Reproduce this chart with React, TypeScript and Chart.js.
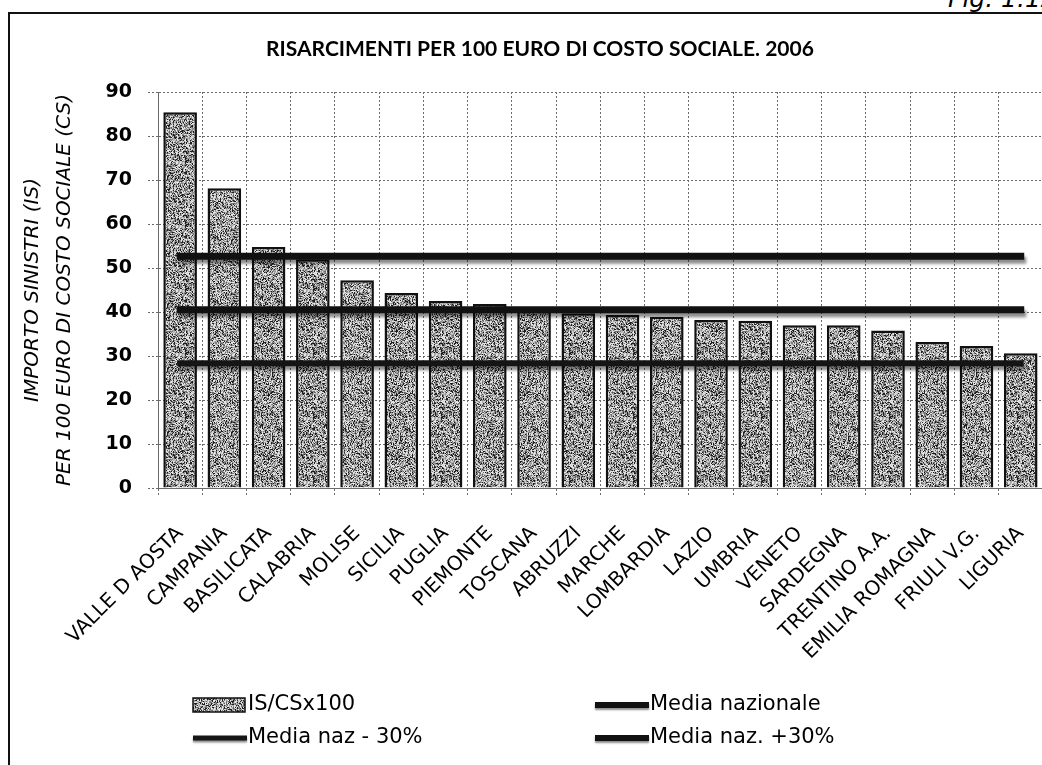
import { useEffect, useRef } from 'react';
import { Chart, registerables } from 'chart.js';

Chart.register(...registerables);

const chartTitle = 'RISARCIMENTI PER 100 EURO DI COSTO SOCIALE. 2006';
const yAxisTitle = ['IMPORTO SINISTRI (IS)', 'PER 100 EURO DI COSTO SOCIALE (CS)'];
const figLabel = 'Fig. 1.12';

const categories = [
  'VALLE D AOSTA', 'CAMPANIA', 'BASILICATA', 'CALABRIA', 'MOLISE', 'SICILIA', 'PUGLIA',
  'PIEMONTE', 'TOSCANA', 'ABRUZZI', 'MARCHE', 'LOMBARDIA', 'LAZIO', 'UMBRIA', 'VENETO',
  'SARDEGNA', 'TRENTINO A.A.', 'EMILIA ROMAGNA', 'FRIULI V.G.', 'LIGURIA',
];

const seriesLabels = ['IS/CSx100', 'Media nazionale', 'Media naz - 30%', 'Media naz. +30%'];

const isCsValues = [
  85.4, 68.1, 54.8, 52.0, 47.2, 44.3, 42.5, 41.8, 40.2, 39.7,
  39.3, 38.9, 38.2, 38.0, 37.0, 37.0, 35.8, 33.2, 32.3, 30.6,
];

const mediaNazionale = [
  40.5, 40.5, 40.5, 40.5, 40.5, 40.5, 40.5, 40.5, 40.5, 40.5,
  40.5, 40.5, 40.5, 40.5, 40.5, 40.5, 40.5, 40.5, 40.5, 40.5,
];

const mediaMeno30 = [
  28.35, 28.35, 28.35, 28.35, 28.35, 28.35, 28.35, 28.35, 28.35, 28.35,
  28.35, 28.35, 28.35, 28.35, 28.35, 28.35, 28.35, 28.35, 28.35, 28.35,
];

const mediaPiu30 = [
  52.65, 52.65, 52.65, 52.65, 52.65, 52.65, 52.65, 52.65, 52.65, 52.65,
  52.65, 52.65, 52.65, 52.65, 52.65, 52.65, 52.65, 52.65, 52.65, 52.65,
];

const yMin = 0;
const yMax = 90;
const yStep = 10;

const FONT = "'DejaVu Sans', sans-serif";

function makeNoisePattern(ctx: CanvasRenderingContext2D): CanvasPattern | string {
  const size = 64;
  const c = document.createElement('canvas');
  c.width = size;
  c.height = size;
  const g = c.getContext('2d');
  if (!g) return '#8c8c8c';
  const img = g.createImageData(size, size);
  for (let y = 0; y < size; y++) {
    for (let x = 0; x < size; x++) {
      let h = Math.imul(x + 17, 374761393) ^ Math.imul(y + 31, 668265263);
      h = Math.imul(h ^ (h >>> 13), 1274126177);
      h = (h ^ (h >>> 16)) >>> 0;
      const r = (h & 1023) / 1023;
      let v: number;
      if (r < 0.2) v = 30;
      else if (r < 0.4) v = 230;
      else v = 90 + Math.floor(((h >>> 10) & 255) * 0.5);
      const i = (y * size + x) * 4;
      img.data[i] = v;
      img.data[i + 1] = v;
      img.data[i + 2] = v;
      img.data[i + 3] = 255;
    }
  }
  g.putImageData(img, 0, 0);
  return ctx.createPattern(c, 'repeat') || '#8c8c8c';
}

const lineShadow = {
  id: 'lineShadow',
  beforeDatasetDraw(chart: any, args: any) {
    const ds = chart.data.datasets[args.index];
    if (ds.type === 'line') {
      const ctx = chart.ctx;
      ctx.save();
      ctx.shadowColor = 'rgba(0,0,0,0.45)';
      ctx.shadowBlur = 3;
      ctx.shadowOffsetX = 2;
      ctx.shadowOffsetY = 4;
    }
  },
  afterDatasetDraw(chart: any, args: any) {
    const ds = chart.data.datasets[args.index];
    if (ds.type === 'line') chart.ctx.restore();
  },
};

const fixedTitle = {
  id: 'fixedTitle',
  afterDraw(chart: any) {
    const ctx = chart.ctx as CanvasRenderingContext2D;
    ctx.save();
    ctx.fillStyle = '#000';
    ctx.font = "bold 21px Lato, 'DejaVu Sans', sans-serif";
    ctx.textAlign = 'center';
    ctx.textBaseline = 'middle';
    ctx.fillText(chartTitle, 540, 49);
    ctx.restore();
  },
};

const gridLegend = {
  id: 'gridLegend',
  afterDraw(chart: any) {
    const ctx = chart.ctx as CanvasRenderingContext2D;
    const cols = [193, 595];
    const rows = [705, 738];
    ctx.save();
    chart.data.datasets.forEach((ds: any, i: number) => {
      const x = cols[i % 2];
      const y = rows[Math.floor(i / 2)];
      if (ds.type === 'line') {
        ctx.save();
        ctx.shadowColor = 'rgba(0,0,0,0.45)';
        ctx.shadowBlur = 2;
        ctx.shadowOffsetY = 2;
        ctx.strokeStyle = ds.borderColor;
        ctx.lineWidth = ds.borderWidth - 1;
        ctx.beginPath();
        ctx.moveTo(x, y);
        ctx.lineTo(x + 54, y);
        ctx.stroke();
        ctx.restore();
      } else {
        ctx.fillStyle = ds.backgroundColor;
        ctx.fillRect(x, y - 7, 52, 14);
        ctx.strokeStyle = '#111';
        ctx.lineWidth = 1.5;
        ctx.strokeRect(x, y - 7, 52, 14);
      }
      ctx.fillStyle = '#000';
      ctx.font = `21px ${FONT}`;
      ctx.textBaseline = 'middle';
      ctx.textAlign = 'left';
      ctx.fillText(ds.label, x + 55, y);
    });
    ctx.restore();
  },
};

export default function App() {
  const canvasRef = useRef<HTMLCanvasElement | null>(null);

  useEffect(() => {
    const canvas = canvasRef.current;
    if (!canvas) return;
    const ctx = canvas.getContext('2d');
    if (!ctx) return;
    const pattern = makeNoisePattern(ctx);

    const gridColor = '#6a6a6a';
    const dash = [2, 2];

    const lineBase = {
      type: 'line',
      pointRadius: 0,
      fill: false,
      order: 0,
      borderCapStyle: 'square',
    };

    const chart = new Chart(canvas, {
      type: 'bar',
      data: {
        labels: categories,
        datasets: [
          {
            type: 'bar',
            label: seriesLabels[0],
            data: isCsValues,
            backgroundColor: pattern as any,
            borderColor: '#111',
            borderWidth: 2.5,
            barPercentage: 0.76,
            categoryPercentage: 1,
            order: 1,
          },
          { ...lineBase, label: seriesLabels[1], data: mediaNazionale, borderColor: '#111', borderWidth: 7 },
          { ...lineBase, label: seriesLabels[2], data: mediaMeno30, borderColor: '#151515', borderWidth: 6 },
          { ...lineBase, label: seriesLabels[3], data: mediaPiu30, borderColor: '#111', borderWidth: 7 },
        ] as any,
      },
      options: {
        animation: false,
        responsive: false,
        maintainAspectRatio: false,
        layout: { padding: { left: 0, right: 12, top: 92, bottom: 97 } },
        plugins: {
          legend: { display: false },
          tooltip: { enabled: false },
          title: { display: false },
        },
        scales: {
          x: {
            offset: true,
            grid: {
              display: true,
              offset: true,
              color: gridColor,
              lineWidth: 1,
              tickLength: 8,
              tickBorderDash: dash,
              tickColor: gridColor,
            },
            border: { display: true, color: gridColor, dash: dash },
            ticks: {
              autoSkip: false,
              minRotation: 45,
              maxRotation: 45,
              color: '#000',
              padding: 26,
              font: { family: FONT, size: 20 },
            },
            afterFit: (s: any) => { s.height = 180; },
          },
          y: {
            min: yMin,
            max: yMax,
            grid: {
              color: gridColor,
              lineWidth: 1,
              tickLength: 10,
              tickBorderDash: dash,
              tickColor: gridColor,
            },
            border: { display: true, color: gridColor, dash: dash },
            ticks: {
              stepSize: yStep,
              color: '#000',
              padding: 16,
              font: { family: FONT, size: 19, weight: 'bold' },
            },
            title: {
              display: true,
              text: yAxisTitle,
              color: '#000',
              font: { family: FONT, size: 20, style: 'italic', lineHeight: 1.6 },
              padding: { top: 17, bottom: 0 },
            },
            afterFit: (s: any) => { s.width = 158; },
          },
        },
      } as any,
      plugins: [lineShadow, fixedTitle, gridLegend],
    });

    (chart.options.scales as any).x.grid.borderDash = dash;
    (chart.options.scales as any).y.grid.borderDash = dash;
    chart.update('none');

    return () => chart.destroy();
  }, []);

  return (
    <div style={{ position: 'absolute', left: 0, top: 0, width: 1042, height: 765, overflow: 'hidden', background: '#fff' }}>
      <div style={{ position: 'absolute', left: 8, top: 12, width: 1100, height: 800, border: '2px solid #111', boxSizing: 'border-box' }} />
      <div style={{ position: 'absolute', left: 948, top: -16, fontFamily: FONT, fontStyle: 'italic', fontSize: 25, color: '#000', whiteSpace: 'nowrap' }}>{figLabel}</div>
      <canvas ref={canvasRef} width={1064} height={765} style={{ position: 'absolute', left: 0, top: 0, width: 1064, height: 765 }} />
    </div>
  );
}
